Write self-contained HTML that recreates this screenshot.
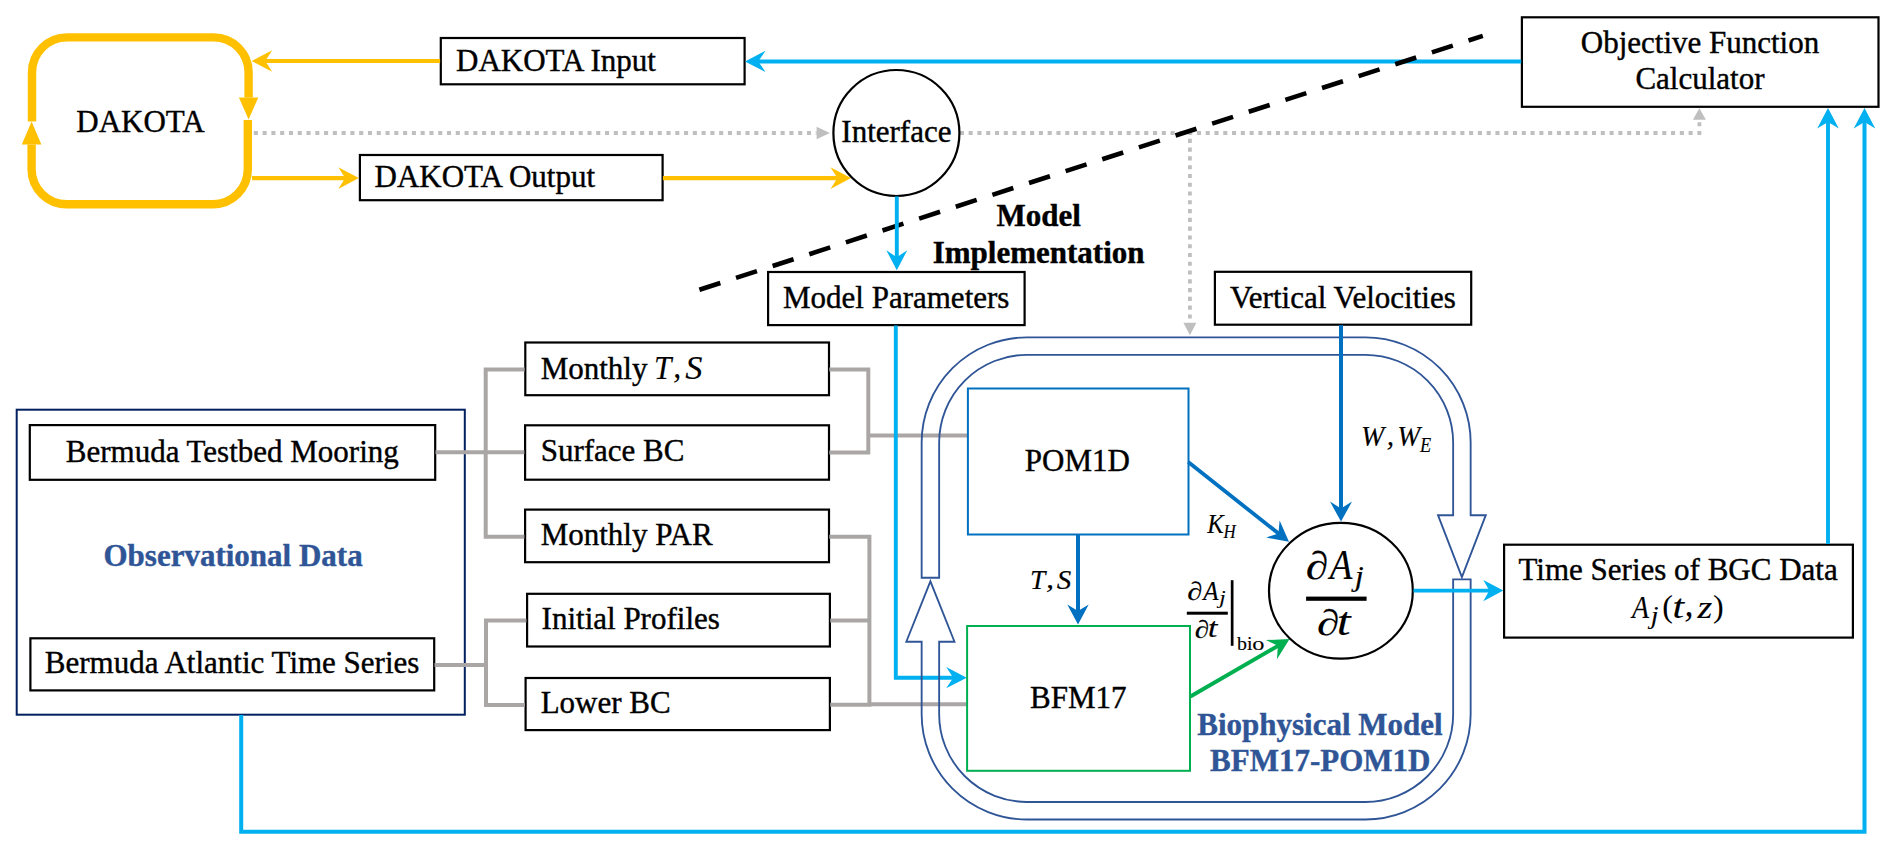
<!DOCTYPE html>
<html><head><meta charset="utf-8"><style>
html,body{margin:0;padding:0;background:#fff;width:1895px;height:850px;overflow:hidden}
svg{display:block}
</style></head><body>
<svg width="1895" height="850" viewBox="0 0 1895 850">
<rect width="1895" height="850" fill="#fff"/>
<path d="M32.00,121.60" fill="none" stroke="#FFC000" stroke-width="8.4" stroke-linecap="butt" stroke-linejoin="miter"/>
<path d="M32.0,121.6 L32.0,72.4 A35,35 0 0 1 67.0,37.4 L213.6,37.4 A35,35 0 0 1 248.6,72.4 L248.6,97.5" fill="none" stroke="#FFC000" stroke-width="8.4"/>
<path d="M238.9,97.4 L258.3,97.4 L248.6,119.4 Z" fill="#FFC000"/>
<path d="M247.8,120 L247.8,169.2 A35,35 0 0 1 212.8,204.2 L66.6,204.2 A35,35 0 0 1 31.6,169.2 L31.6,144.4" fill="none" stroke="#FFC000" stroke-width="8.4"/>
<path d="M21.8,144.4 L41.400000000000006,144.4 L31.6,121.6 Z" fill="#FFC000"/>
<text x="76.30" y="132.00" font-family="Liberation Serif" font-size="31" font-weight="400" font-style="normal" fill="#000" text-anchor="start" stroke="#000" stroke-width="0.4">DAKOTA</text>
<rect x="440.80" y="38.00" width="303.80" height="46.30" fill="none" stroke="#000" stroke-width="2.2"/>
<text x="456.00" y="71.30" font-family="Liberation Serif" font-size="31" font-weight="400" font-style="normal" fill="#000" text-anchor="start" stroke="#000" stroke-width="0.4">DAKOTA Input</text>
<rect x="359.90" y="155.00" width="302.70" height="45.20" fill="none" stroke="#000" stroke-width="2.2"/>
<text x="374.50" y="187.20" font-family="Liberation Serif" font-size="31" font-weight="400" font-style="normal" fill="#000" text-anchor="start" stroke="#000" stroke-width="0.4">DAKOTA Output</text>
<rect x="1521.90" y="17.30" width="356.60" height="89.50" fill="none" stroke="#000" stroke-width="2.2"/>
<text x="1700.00" y="53.40" font-family="Liberation Serif" font-size="31" font-weight="400" font-style="normal" fill="#000" text-anchor="middle" stroke="#000" stroke-width="0.4">Objective Function</text>
<text x="1700.00" y="89.30" font-family="Liberation Serif" font-size="31" font-weight="400" font-style="normal" fill="#000" text-anchor="middle" stroke="#000" stroke-width="0.4">Calculator</text>
<path d="M440.10,61.00 L262.30,61.00" fill="none" stroke="#FFC000" stroke-width="4.0" stroke-linecap="butt" stroke-linejoin="miter"/>
<path d="M251.70,61.00 L272.20,50.15 L265.30,61.00 L272.20,71.85 Z" fill="#FFC000"/>
<path d="M252.00,178.10 L348.20,178.10" fill="none" stroke="#FFC000" stroke-width="4.1" stroke-linecap="butt" stroke-linejoin="miter"/>
<path d="M358.80,178.10 L338.30,188.95 L345.20,178.10 L338.30,167.25 Z" fill="#FFC000"/>
<path d="M662.90,178.10 L840.40,178.10" fill="none" stroke="#FFC000" stroke-width="4.1" stroke-linecap="butt" stroke-linejoin="miter"/>
<path d="M851.00,178.10 L830.50,188.95 L837.40,178.10 L830.50,167.25 Z" fill="#FFC000"/>
<path d="M253.80,133.00 L816.60,133.00" fill="none" stroke="#BFBFBF" stroke-width="3.8" stroke-linecap="butt" stroke-linejoin="miter" stroke-dasharray="4.1 4.68"/>
<path d="M829.90,133.00 L816.60,139.20 L816.60,126.80 Z" fill="#BFBFBF"/>
<path d="M959.84,133.00 L1699.40,133.00 L1699.40,119.80" fill="none" stroke="#BFBFBF" stroke-width="3.8" stroke-linecap="butt" stroke-linejoin="miter" stroke-dasharray="4.1 4.68"/>
<path d="M1699.40,108.20 L1705.90,119.80 L1692.90,119.80 Z" fill="#BFBFBF"/>
<path d="M1189.90,138.80 L1189.90,323.50" fill="none" stroke="#BFBFBF" stroke-width="3.8" stroke-linecap="butt" stroke-linejoin="miter" stroke-dasharray="4.1 4.68"/>
<path d="M1189.90,335.30 L1183.40,322.80 L1196.40,322.80 Z" fill="#BFBFBF"/>
<circle cx="896.4" cy="133.0" r="63.0" fill="#fff" stroke="#000" stroke-width="2.2"/>
<text x="896.40" y="142.00" font-family="Liberation Serif" font-size="31" font-weight="400" font-style="normal" fill="#000" text-anchor="middle" stroke="#000" stroke-width="0.4">Interface</text>
<path d="M1521.20,61.40 L755.30,61.40" fill="none" stroke="#00B0F0" stroke-width="4.0" stroke-linecap="butt" stroke-linejoin="miter"/>
<path d="M745.00,61.40 L765.50,50.80 L758.30,61.40 L765.50,72.00 Z" fill="#00B0F0"/>
<path d="M699.40,289.80 L1482.80,35.90" fill="none" stroke="#000" stroke-width="4.6" stroke-linecap="butt" stroke-linejoin="miter" stroke-dasharray="22 16.5"/>
<text x="1038.60" y="225.90" font-family="Liberation Serif" font-size="31" font-weight="700" font-style="normal" fill="#000" text-anchor="middle" stroke="#000" stroke-width="0.4">Model</text>
<text x="1038.60" y="262.80" font-family="Liberation Serif" font-size="31" font-weight="700" font-style="normal" fill="#000" text-anchor="middle" stroke="#000" stroke-width="0.4">Implementation</text>
<path d="M896.80,196.40 L896.80,260.20" fill="none" stroke="#00B0F0" stroke-width="3.9" stroke-linecap="butt" stroke-linejoin="miter"/>
<path d="M896.80,270.20 L886.30,250.20 L896.80,257.20 L907.30,250.20 Z" fill="#00B0F0"/>
<rect x="768.10" y="272.00" width="256.50" height="53.10" fill="none" stroke="#000" stroke-width="2.2"/>
<text x="896.20" y="308.20" font-family="Liberation Serif" font-size="31" font-weight="400" font-style="normal" fill="#000" text-anchor="middle" stroke="#000" stroke-width="0.4">Model Parameters</text>
<rect x="1214.90" y="271.80" width="256.30" height="52.90" fill="none" stroke="#000" stroke-width="2.2"/>
<text x="1342.80" y="307.60" font-family="Liberation Serif" font-size="31" font-weight="400" font-style="normal" fill="#000" text-anchor="middle" stroke="#000" stroke-width="0.4">Vertical Velocities</text>
<rect x="16.70" y="409.70" width="448.10" height="305.00" fill="none" stroke="#002060" stroke-width="2.0"/>
<rect x="29.80" y="425.10" width="405.40" height="54.70" fill="none" stroke="#000" stroke-width="2.2"/>
<text x="232.30" y="461.70" font-family="Liberation Serif" font-size="31" font-weight="400" font-style="normal" fill="#000" text-anchor="middle" stroke="#000" stroke-width="0.4">Bermuda Testbed Mooring</text>
<rect x="30.40" y="638.30" width="403.80" height="52.10" fill="none" stroke="#000" stroke-width="2.2"/>
<text x="232.10" y="673.20" font-family="Liberation Serif" font-size="31" font-weight="400" font-style="normal" fill="#000" text-anchor="middle" stroke="#000" stroke-width="0.4">Bermuda Atlantic Time Series</text>
<text x="233.10" y="565.70" font-family="Liberation Serif" font-size="31" font-weight="700" font-style="normal" fill="#2F5597" text-anchor="middle" stroke="#2F5597" stroke-width="0.4">Observational Data</text>
<rect x="525.30" y="342.50" width="303.70" height="52.70" fill="none" stroke="#000" stroke-width="2.2"/>
<text x="540.70" y="378.80" font-family="Liberation Serif" font-size="31" font-weight="400" font-style="normal" fill="#000" text-anchor="start" stroke="#000" stroke-width="0.4">Monthly</text>
<text transform="translate(654.01,378.70) scale(0.3119,0.3305)" x="0" y="0" font-family="Liberation Serif" font-size="100" font-style="italic" font-weight="400" fill="#000" stroke="#000" stroke-width="0.454">T</text>
<text transform="translate(673.14,377.61) scale(0.3186,0.3310)" x="0" y="0" font-family="Liberation Serif" font-size="100" font-style="italic" font-weight="400" fill="#000" stroke="#000" stroke-width="0.453">,</text>
<text transform="translate(685.30,378.58) scale(0.3431,0.3289)" x="0" y="0" font-family="Liberation Serif" font-size="100" font-style="italic" font-weight="400" fill="#000" stroke="#000" stroke-width="0.437">S</text>
<rect x="525.10" y="425.30" width="303.90" height="54.40" fill="none" stroke="#000" stroke-width="2.2"/>
<text x="540.70" y="460.90" font-family="Liberation Serif" font-size="31" font-weight="400" font-style="normal" fill="#000" text-anchor="start" stroke="#000" stroke-width="0.4">Surface BC</text>
<rect x="525.10" y="509.60" width="303.90" height="52.60" fill="none" stroke="#000" stroke-width="2.2"/>
<text x="540.70" y="545.00" font-family="Liberation Serif" font-size="31" font-weight="400" font-style="normal" fill="#000" text-anchor="start" stroke="#000" stroke-width="0.4">Monthly PAR</text>
<rect x="527.10" y="593.80" width="302.80" height="52.70" fill="none" stroke="#000" stroke-width="2.2"/>
<text x="541.60" y="629.10" font-family="Liberation Serif" font-size="31" font-weight="400" font-style="normal" fill="#000" text-anchor="start" stroke="#000" stroke-width="0.4">Initial Profiles</text>
<rect x="525.60" y="678.00" width="304.30" height="52.10" fill="none" stroke="#000" stroke-width="2.2"/>
<text x="540.70" y="712.80" font-family="Liberation Serif" font-size="31" font-weight="400" font-style="normal" fill="#000" text-anchor="start" stroke="#000" stroke-width="0.4">Lower BC</text>
<path d="M435.50,452.30 L485.70,452.30" fill="none" stroke="#AAA6A6" stroke-width="4.0" stroke-linecap="butt" stroke-linejoin="miter"/>
<path d="M524.60,369.60 L485.70,369.60 L485.70,536.70 L524.40,536.70" fill="none" stroke="#AAA6A6" stroke-width="4.0" stroke-linecap="butt" stroke-linejoin="miter"/>
<path d="M485.70,452.30 L524.40,452.30" fill="none" stroke="#AAA6A6" stroke-width="4.0" stroke-linecap="butt" stroke-linejoin="miter"/>
<path d="M829.30,369.60 L868.30,369.60 L868.30,452.60 L829.30,452.60" fill="none" stroke="#AAA6A6" stroke-width="4.0" stroke-linecap="butt" stroke-linejoin="miter"/>
<path d="M868.30,435.40 L967.50,435.40" fill="none" stroke="#AAA6A6" stroke-width="4.0" stroke-linecap="butt" stroke-linejoin="miter"/>
<path d="M434.50,665.00 L486.00,665.00" fill="none" stroke="#AAA6A6" stroke-width="4.0" stroke-linecap="butt" stroke-linejoin="miter"/>
<path d="M526.40,620.50 L486.00,620.50 L486.00,705.00 L524.90,705.00" fill="none" stroke="#AAA6A6" stroke-width="4.0" stroke-linecap="butt" stroke-linejoin="miter"/>
<path d="M829.30,536.70 L869.40,536.70 L869.40,704.80 L830.20,704.80" fill="none" stroke="#AAA6A6" stroke-width="4.0" stroke-linecap="butt" stroke-linejoin="miter"/>
<path d="M830.20,620.50 L869.40,620.50" fill="none" stroke="#AAA6A6" stroke-width="4.0" stroke-linecap="butt" stroke-linejoin="miter"/>
<path d="M869.40,704.30 L967.00,704.30" fill="none" stroke="#AAA6A6" stroke-width="4.0" stroke-linecap="butt" stroke-linejoin="miter"/>
<path d="M895.80,325.50 L895.80,677.70 L956.20,677.70" fill="none" stroke="#00B0F0" stroke-width="3.9" stroke-linecap="butt" stroke-linejoin="miter"/>
<path d="M966.70,677.70 L946.20,688.30 L953.20,677.70 L946.20,667.10 Z" fill="#00B0F0"/>
<path d="M921.65,577.7 L921.65,442.6 A105.25,105.25 0 0 1 1026.9,337.35 L1365.4,337.35 A105.25,105.25 0 0 1 1470.65,442.6 L1470.65,515.2 L1485.8000000000002,515.2 L1461.9,577.2 L1438.0,515.2 L1453.15,515.2 L1453.15,442.6 A87.75,87.75 0 0 0 1365.4,354.85 L1026.9,354.85 A87.75,87.75 0 0 0 939.15,442.6 L939.15,577.7 Z" fill="none" stroke="#2F5597" stroke-width="1.85" stroke-linejoin="miter"/>
<path d="M1453.15,579.4 L1470.65,579.4 L1470.65,714.2 A105.25,105.25 0 0 1 1365.4,819.45 L1026.9,819.45 A105.25,105.25 0 0 1 921.65,714.2 L921.65,641.7 L906.3,641.7 L930.4,581.3 L954.5,641.7 L939.15,641.7 L939.15,714.2 A87.75,87.75 0 0 0 1026.9,801.95 L1365.4,801.95 A87.75,87.75 0 0 0 1453.15,714.2 L1453.15,579.4 Z" fill="none" stroke="#2F5597" stroke-width="1.85" stroke-linejoin="miter"/>
<rect x="967.90" y="388.50" width="220.60" height="146.00" fill="none" stroke="#0070C0" stroke-width="2.0"/>
<text x="1077.40" y="471.00" font-family="Liberation Serif" font-size="31" font-weight="400" font-style="normal" fill="#000" text-anchor="middle" stroke="#000" stroke-width="0.4">POM1D</text>
<rect x="967.10" y="626.00" width="222.90" height="144.80" fill="none" stroke="#00B050" stroke-width="2.0"/>
<text x="1078.30" y="707.70" font-family="Liberation Serif" font-size="31" font-weight="400" font-style="normal" fill="#000" text-anchor="middle" stroke="#000" stroke-width="0.4">BFM17</text>
<text x="1320.00" y="734.80" font-family="Liberation Serif" font-size="31" font-weight="700" font-style="normal" fill="#2F5597" text-anchor="middle" stroke="#2F5597" stroke-width="0.4">Biophysical Model</text>
<text x="1320.30" y="771.20" font-family="Liberation Serif" font-size="31" font-weight="700" font-style="normal" fill="#2F5597" text-anchor="middle" stroke="#2F5597" stroke-width="0.4">BFM17-POM1D</text>
<path d="M1341.00,325.10 L1341.00,511.60" fill="none" stroke="#0070C0" stroke-width="4.0" stroke-linecap="butt" stroke-linejoin="miter"/>
<path d="M1341.00,521.60 L1330.00,501.60 L1341.00,508.60 L1352.00,501.60 Z" fill="#0070C0"/>
<path d="M1188.20,462.10 L1280.76,535.29" fill="none" stroke="#0070C0" stroke-width="3.8" stroke-linecap="butt" stroke-linejoin="miter"/>
<path d="M1289.00,541.80 L1266.22,537.56 L1278.41,533.43 L1279.62,520.61 Z" fill="#0070C0"/>
<path d="M1078.00,534.20 L1078.00,614.00" fill="none" stroke="#0070C0" stroke-width="4.0" stroke-linecap="butt" stroke-linejoin="miter"/>
<path d="M1078.00,624.50 L1067.30,604.50 L1078.00,611.00 L1088.70,604.50 Z" fill="#0070C0"/>
<path d="M1190.40,696.50 L1280.51,644.36" fill="none" stroke="#00B050" stroke-width="4.0" stroke-linecap="butt" stroke-linejoin="miter"/>
<path d="M1289.60,639.10 L1276.93,659.14 L1277.92,645.86 L1265.91,640.10 Z" fill="#00B050"/>
<ellipse cx="1340.9" cy="590.75" rx="71.9" ry="67.95" fill="#fff" stroke="#000" stroke-width="2.2"/>
<path d="M1413.50,590.60 L1492.30,590.60" fill="none" stroke="#00B0F0" stroke-width="3.9" stroke-linecap="butt" stroke-linejoin="miter"/>
<path d="M1503.30,590.60 L1483.30,601.30 L1489.30,590.60 L1483.30,579.90 Z" fill="#00B0F0"/>
<text transform="translate(1305.78,578.98) scale(0.4572,0.3949)" x="0" y="0" font-family="Liberation Serif" font-size="100" font-style="italic" font-weight="400" fill="#000" stroke="#000" stroke-width="0.328">∂</text>
<text transform="translate(1329.72,578.90) scale(0.3692,0.4211)" x="0" y="0" font-family="Liberation Serif" font-size="100" font-style="italic" font-weight="400" fill="#000" stroke="#000" stroke-width="0.356">A</text>
<text transform="translate(1354.67,586.03) scale(0.3247,0.3040)" x="0" y="0" font-family="Liberation Serif" font-size="100" font-style="italic" font-weight="400" fill="#000" stroke="#000" stroke-width="0.462">j</text>
<rect x="1306.1" y="596.6" width="60.5" height="4.2" fill="#000"/>
<text transform="translate(1317.04,635.22) scale(0.4528,0.3622)" x="0" y="0" font-family="Liberation Serif" font-size="100" font-style="italic" font-weight="400" fill="#000" stroke="#000" stroke-width="0.331">∂</text>
<text transform="translate(1336.76,635.31) scale(0.4998,0.3998)" x="0" y="0" font-family="Liberation Serif" font-size="100" font-style="italic" font-weight="400" fill="#000" stroke="#000" stroke-width="0.300">t</text>
<text transform="translate(1187.28,599.86) scale(0.3072,0.2601)" x="0" y="0" font-family="Liberation Serif" font-size="100" font-style="italic" font-weight="400" fill="#000" stroke="#000" stroke-width="0.488">∂</text>
<text transform="translate(1203.17,599.70) scale(0.2511,0.2666)" x="0" y="0" font-family="Liberation Serif" font-size="100" font-style="italic" font-weight="400" fill="#000" stroke="#000" stroke-width="0.563">A</text>
<text transform="translate(1219.16,604.36) scale(0.2303,0.1897)" x="0" y="0" font-family="Liberation Serif" font-size="100" font-style="italic" font-weight="400" fill="#000" stroke="#000" stroke-width="0.651">j</text>
<rect x="1186.8" y="611.7" width="41" height="3.0" fill="#000"/>
<text transform="translate(1194.82,637.57) scale(0.2953,0.2540)" x="0" y="0" font-family="Liberation Serif" font-size="100" font-style="italic" font-weight="400" fill="#000" stroke="#000" stroke-width="0.508">∂</text>
<text transform="translate(1207.68,637.33) scale(0.3492,0.2794)" x="0" y="0" font-family="Liberation Serif" font-size="100" font-style="italic" font-weight="400" fill="#000" stroke="#000" stroke-width="0.430">t</text>
<rect x="1230.8" y="580.2" width="2.7" height="65.6" fill="#000"/>
<text transform="translate(1237.00,649.61) scale(0.1992,0.1933)" x="0" y="0" font-family="Liberation Serif" font-size="100" font-style="normal" font-weight="400" fill="#000" stroke="#000" stroke-width="0.753">b</text>
<text transform="translate(1246.89,649.60) scale(0.1977,0.1963)" x="0" y="0" font-family="Liberation Serif" font-size="100" font-style="normal" font-weight="400" fill="#000" stroke="#000" stroke-width="0.759">i</text>
<text transform="translate(1252.37,649.61) scale(0.2430,0.1975)" x="0" y="0" font-family="Liberation Serif" font-size="100" font-style="normal" font-weight="400" fill="#000" stroke="#000" stroke-width="0.617">o</text>
<text transform="translate(1207.29,533.00) scale(0.2480,0.2802)" x="0" y="0" font-family="Liberation Serif" font-size="100" font-style="italic" font-weight="400" fill="#000" stroke="#000" stroke-width="0.535">K</text>
<text transform="translate(1223.43,537.96) scale(0.1691,0.1903)" x="0" y="0" font-family="Liberation Serif" font-size="100" font-style="italic" font-weight="400" fill="#000" stroke="#000" stroke-width="0.788">H</text>
<text transform="translate(1030.00,588.90) scale(0.2746,0.2764)" x="0" y="0" font-family="Liberation Serif" font-size="100" font-style="italic" font-weight="400" fill="#000" stroke="#000" stroke-width="0.543">T</text>
<text transform="translate(1046.03,588.01) scale(0.3225,0.2725)" x="0" y="0" font-family="Liberation Serif" font-size="100" font-style="italic" font-weight="400" fill="#000" stroke="#000" stroke-width="0.465">,</text>
<text transform="translate(1056.86,588.93) scale(0.2902,0.2739)" x="0" y="0" font-family="Liberation Serif" font-size="100" font-style="italic" font-weight="400" fill="#000" stroke="#000" stroke-width="0.517">S</text>
<text transform="translate(1360.92,445.67) scale(0.2793,0.2842)" x="0" y="0" font-family="Liberation Serif" font-size="100" font-style="italic" font-weight="400" fill="#000" stroke="#000" stroke-width="0.528">W</text>
<text transform="translate(1386.73,444.53) scale(0.2926,0.2842)" x="0" y="0" font-family="Liberation Serif" font-size="100" font-style="italic" font-weight="400" fill="#000" stroke="#000" stroke-width="0.513">,</text>
<text transform="translate(1397.18,445.67) scale(0.2765,0.2842)" x="0" y="0" font-family="Liberation Serif" font-size="100" font-style="italic" font-weight="400" fill="#000" stroke="#000" stroke-width="0.528">W</text>
<text transform="translate(1420.11,452.00) scale(0.1830,0.2016)" x="0" y="0" font-family="Liberation Serif" font-size="100" font-style="italic" font-weight="400" fill="#000" stroke="#000" stroke-width="0.744">E</text>
<rect x="1504.10" y="544.70" width="348.80" height="92.90" fill="none" stroke="#000" stroke-width="2.2"/>
<text x="1678.10" y="579.80" font-family="Liberation Serif" font-size="31" font-weight="400" font-style="normal" fill="#000" text-anchor="middle" stroke="#000" stroke-width="0.4">Time Series of BGC Data</text>
<text transform="translate(1632.02,618.00) scale(0.2780,0.3234)" x="0" y="0" font-family="Liberation Serif" font-size="100" font-style="italic" font-weight="400" fill="#000" stroke="#000" stroke-width="0.464">A</text>
<text transform="translate(1650.67,624.42) scale(0.2775,0.2434)" x="0" y="0" font-family="Liberation Serif" font-size="100" font-style="italic" font-weight="400" fill="#000" stroke="#000" stroke-width="0.541">j</text>
<text transform="translate(1662.27,616.97) scale(0.3209,0.3209)" x="0" y="0" font-family="Liberation Serif" font-size="100" font-style="normal" font-weight="400" fill="#000">(</text>
<text transform="translate(1672.56,617.67) scale(0.4177,0.3342)" x="0" y="0" font-family="Liberation Serif" font-size="100" font-style="italic" font-weight="400" fill="#000" stroke="#000" stroke-width="0.359">t</text>
<text transform="translate(1684.51,615.91) scale(0.3576,0.3894)" x="0" y="0" font-family="Liberation Serif" font-size="100" font-style="italic" font-weight="400" fill="#000" stroke="#000" stroke-width="0.385">,</text>
<text transform="translate(1697.43,617.70) scale(0.3796,0.3203)" x="0" y="0" font-family="Liberation Serif" font-size="100" font-style="italic" font-weight="400" fill="#000" stroke="#000" stroke-width="0.395">z</text>
<text transform="translate(1712.94,616.97) scale(0.3209,0.3209)" x="0" y="0" font-family="Liberation Serif" font-size="100" font-style="normal" font-weight="400" fill="#000">)</text>
<path d="M1828.00,544.00 L1828.00,118.90" fill="none" stroke="#00B0F0" stroke-width="3.9" stroke-linecap="butt" stroke-linejoin="miter"/>
<path d="M1828.00,107.90 L1838.80,128.50 L1828.00,121.90 L1817.20,128.50 Z" fill="#00B0F0"/>
<path d="M241.20,715.00 L241.20,831.70 L1864.50,831.70 L1864.50,118.90" fill="none" stroke="#00B0F0" stroke-width="4.0" stroke-linecap="butt" stroke-linejoin="miter"/>
<path d="M1864.50,107.90 L1875.30,128.50 L1864.50,121.90 L1853.70,128.50 Z" fill="#00B0F0"/>
</svg></body></html>
